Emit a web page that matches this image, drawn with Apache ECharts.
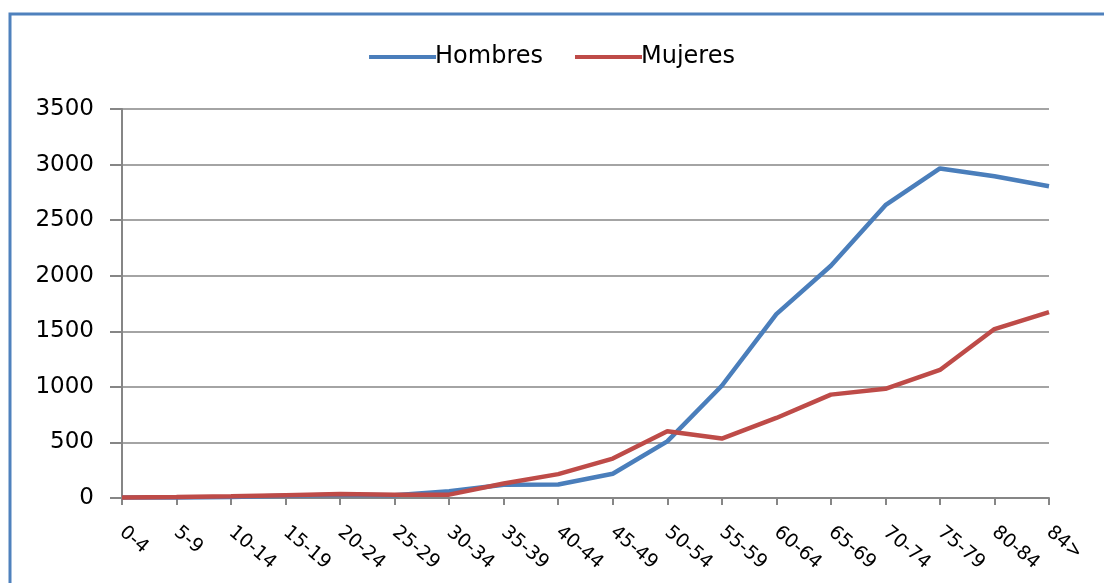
<!DOCTYPE html>
<html>
<head>
<meta charset="utf-8">
<script src="https://cdn.jsdelivr.net/npm/echarts@6/dist/echarts.min.js"></script>
<style>
  html, body { margin: 0; padding: 0; background: #fff; }
  #chart { width: 1104px; height: 583px; }
</style>
</head>
<body>
<div id="chart"></div>
<script>
// grupos de edad
const ageGroups = ['0-4', '5-9', '10-14', '15-19', '20-24', '25-29', '30-34', '35-39', '40-44',
  '45-49', '50-54', '55-59', '60-64', '65-69', '70-74', '75-79', '80-84', '84>']
const hombres = [5, 5, 10, 20, 30, 25, 60, 120, 122, 218, 510, 1010, 1655, 2090, 2635, 2965, 2895, 2805]
const mujeres = [5, 8, 15, 25, 35, 30, 30, 130, 215, 355, 600, 535, 720, 930, 982, 1152, 1520, 1672]
const yTicks = { min: 0, max: 3500, interval: 500 }

const chart = echarts.init(document.getElementById('chart'), null, { renderer: 'canvas' })

const font = 'DejaVu Sans'

chart.setOption({
  animation: false,
  backgroundColor: '#fff',
  graphic: [
    {
      type: 'rect',
      shape: { x: 10, y: 14, width: 1120, height: 600 },
      style: { fill: 'none', stroke: '#4F81BD', lineWidth: 3 },
      silent: true
    }
  ],
  legend: {
    top: 40,
    left: 'center',
    itemWidth: 67,
    itemHeight: 4,
    itemGap: 32,
    icon: 'rect',
    textStyle: { fontFamily: font, fontSize: 24, color: '#000', padding: [0, 0, 0, -6] },
    data: ['Hombres', 'Mujeres']
  },
  grid: { left: 122, right: 55, top: 109, bottom: 85 },
  xAxis: {
    type: 'category',
    data: ageGroups,
    boundaryGap: false,
    axisLine: { lineStyle: { color: '#868686', width: 2 } },
    axisTick: { alignWithLabel: true, length: 7, lineStyle: { color: '#868686', width: 2 } },
    axisLabel: {
      rotate: -40,
      interval: 0,
      margin: 32,
      fontFamily: font,
      fontSize: 19,
      color: '#000'
    }
  },
  yAxis: {
    type: 'value',
    min: yTicks.min,
    max: yTicks.max,
    interval: yTicks.interval,
    axisLine: { show: true, lineStyle: { color: '#868686', width: 2 } },
    axisTick: { show: true, length: 12, lineStyle: { color: '#868686', width: 2 } },
    axisLabel: {
      fontFamily: font,
      fontSize: 23,
      color: '#000',
      margin: 28,
      formatter: v => String(v)
    },
    splitLine: { lineStyle: { color: '#868686', width: 1.5 } }
  },
  series: [
    {
      name: 'Hombres',
      type: 'line',
      data: hombres,
      symbol: 'none',
      itemStyle: { color: '#4A7EBB' },
      lineStyle: { width: 4.5, color: '#4A7EBB' }
    },
    {
      name: 'Mujeres',
      type: 'line',
      data: mujeres,
      symbol: 'none',
      itemStyle: { color: '#BE4B48' },
      lineStyle: { width: 4.5, color: '#BE4B48' }
    }
  ]
})
</script>
</body>
</html>
